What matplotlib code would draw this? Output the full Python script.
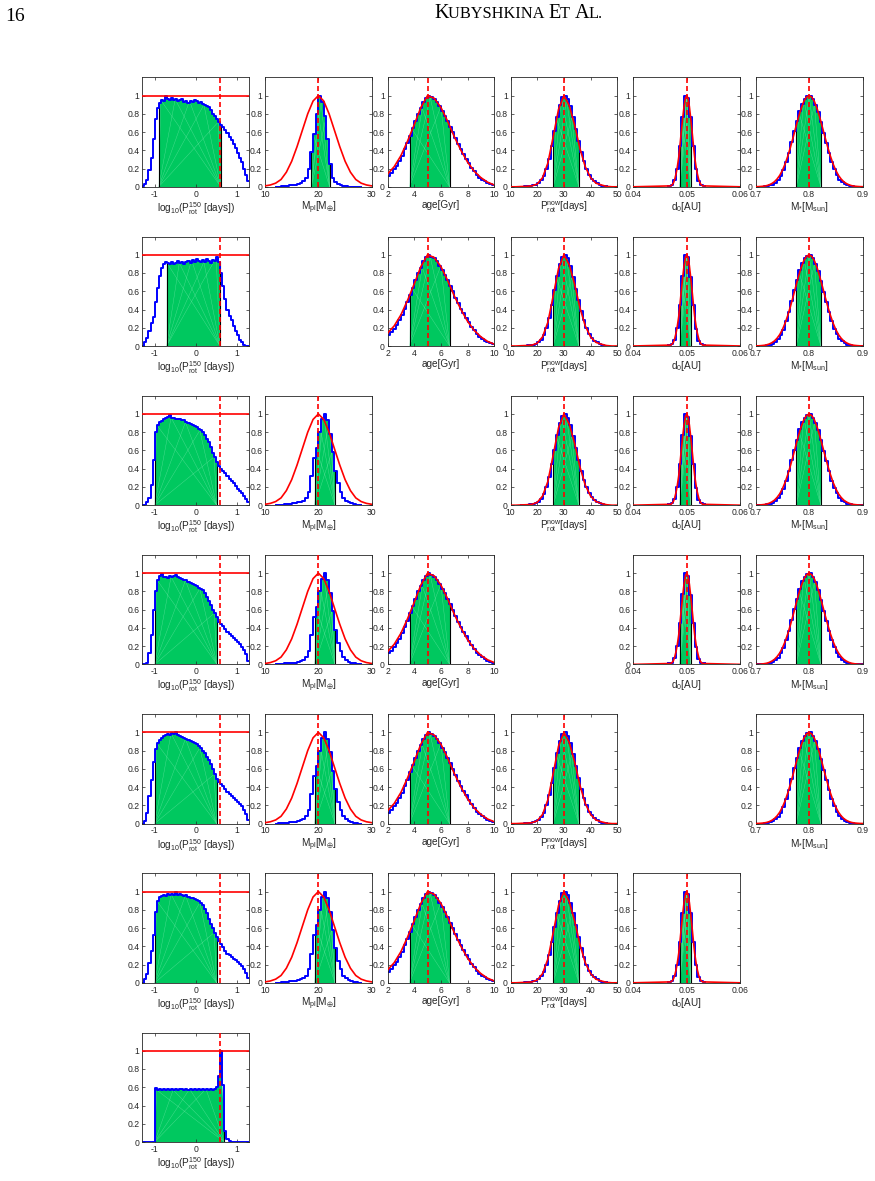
import numpy as np
import matplotlib
matplotlib.use("Agg")
import matplotlib.pyplot as plt
from matplotlib.ticker import FuncFormatter
from matplotlib.offsetbox import TextArea, HPacker, AnchoredOffsetbox

plt.rcParams['font.family'] = ['Liberation Sans', 'DejaVu Sans']
plt.rcParams['mathtext.fontset'] = 'custom'
plt.rcParams['mathtext.rm'] = 'Liberation Sans'
plt.rcParams['mathtext.it'] = 'Liberation Sans:italic'
plt.rcParams['mathtext.bf'] = 'Liberation Sans:bold'
plt.rcParams['mathtext.fallback'] = 'stix'

# --- DATA ---

# log10(P_rot^150 [days]) posterior, bins of 0.05 between -1.3 and 1.3
PROT150_EDGES = np.linspace(-1.3, 1.3, 53)
PROT150_HIST = [
    [0.01, 0.03, 0.08, 0.18, 0.32, 0.52, 0.74, 0.86, 0.92, 0.95, 0.94, 0.99, 0.96,
     0.95, 0.97, 0.95, 0.96, 0.94, 0.95, 0.96, 0.93, 0.94, 0.92, 0.94, 0.93, 0.95,
     0.94, 0.92, 0.93, 0.91, 0.90, 0.88, 0.87, 0.84, 0.80, 0.78, 0.74, 0.71, 0.68,
     0.65, 0.62, 0.59, 0.55, 0.51, 0.47, 0.42, 0.37, 0.32, 0.27, 0.20, 0.13, 0.06],
    [0.0, 0.04, 0.09, 0.16, 0.25, 0.32, 0.48, 0.64, 0.77, 0.86, 0.90, 0.92, 0.91,
     0.90, 0.92, 0.90, 0.91, 0.93, 0.91, 0.92, 0.90, 0.92, 0.93, 0.91, 0.94, 0.92,
     0.95, 0.93, 0.92, 0.94, 0.92, 0.95, 0.93, 0.91, 0.94, 0.93, 0.97, 0.92, 0.80,
     0.66, 0.52, 0.40, 0.33, 0.28, 0.22, 0.16, 0.12, 0.07, 0.04, 0.01, 0.0, 0.0],
    [0.0, 0.0, 0.03, 0.08, 0.22, 0.50, 0.80, 0.88, 0.91, 0.92, 0.94, 0.96, 0.97,
     0.99, 0.96, 0.96, 0.95, 0.94, 0.94, 0.93, 0.93, 0.91, 0.90, 0.89, 0.88, 0.87,
     0.86, 0.84, 0.82, 0.80, 0.77, 0.73, 0.69, 0.64, 0.57, 0.53, 0.47, 0.43, 0.40,
     0.38, 0.35, 0.32, 0.29, 0.26, 0.24, 0.21, 0.18, 0.16, 0.13, 0.10, 0.07, 0.03],
    [0.0, 0.0, 0.02, 0.12, 0.32, 0.60, 0.80, 0.93, 0.97, 0.99, 0.96, 0.96, 0.95,
     0.97, 0.96, 0.97, 0.98, 0.96, 0.95, 0.94, 0.93, 0.92, 0.90, 0.89, 0.88, 0.87,
     0.86, 0.84, 0.83, 0.81, 0.78, 0.74, 0.70, 0.65, 0.60, 0.56, 0.52, 0.47, 0.44,
     0.42, 0.39, 0.36, 0.33, 0.31, 0.29, 0.27, 0.25, 0.22, 0.19, 0.16, 0.11, 0.04],
    [0.0, 0.03, 0.12, 0.30, 0.48, 0.68, 0.82, 0.88, 0.92, 0.94, 0.96, 0.97, 0.98,
     0.97, 0.99, 0.98, 1.0, 0.97, 0.96, 0.95, 0.94, 0.93, 0.92, 0.91, 0.89, 0.88,
     0.87, 0.85, 0.83, 0.80, 0.77, 0.73, 0.70, 0.65, 0.60, 0.54, 0.49, 0.46, 0.43,
     0.41, 0.38, 0.35, 0.32, 0.30, 0.28, 0.26, 0.24, 0.21, 0.19, 0.15, 0.10, 0.04],
    [0.0, 0.04, 0.10, 0.22, 0.35, 0.52, 0.78, 0.90, 0.94, 0.95, 0.96, 0.95, 0.97,
     0.96, 0.97, 0.96, 0.99, 0.96, 0.97, 0.96, 0.95, 0.96, 0.94, 0.93, 0.93, 0.92,
     0.91, 0.90, 0.88, 0.85, 0.81, 0.76, 0.70, 0.64, 0.60, 0.55, 0.50, 0.46, 0.42,
     0.39, 0.35, 0.32, 0.30, 0.28, 0.26, 0.25, 0.23, 0.21, 0.18, 0.15, 0.11, 0.05],
    [0.0, 0.0, 0.0, 0.0, 0.0, 0.0, 0.59, 0.57, 0.58, 0.57, 0.58, 0.57, 0.58,
     0.57, 0.58, 0.57, 0.58, 0.57, 0.58, 0.58, 0.57, 0.58, 0.57, 0.58, 0.57, 0.58,
     0.57, 0.58, 0.57, 0.58, 0.57, 0.58, 0.57, 0.58, 0.57, 0.58, 0.60, 0.72, 1.0,
     0.62, 0.12, 0.03, 0.01, 0.0, 0.0, 0.0, 0.0, 0.0, 0.0, 0.0, 0.0, 0.0],
]
PROT150_CI = [(-0.90, 0.61), (-0.71, 0.59), (-1.0, 0.51), (-1.0, 0.52),
              (-1.0, 0.51), (-1.0, 0.51), (-1.0, 0.70)]
PROT150_PRIOR = 1.0
PROT150_TRUE = 0.6

# planet mass [M_earth], bins of 0.5 between 12 and 28
MPL_EDGES = np.linspace(12, 28, 33)
MPL_HIST_A = [0.0, 0.0, 0.005, 0.01, 0.01, 0.015, 0.02, 0.025, 0.03, 0.04, 0.06,
              0.10, 0.20, 0.38, 0.58, 0.80, 1.0, 0.93, 0.78, 0.52, 0.25, 0.10,
              0.05, 0.03, 0.02, 0.01, 0.005, 0.0, 0.0, 0.0, 0.0, 0.0]
MPL_HIST_B = [0.0, 0.003, 0.005, 0.01, 0.01, 0.015, 0.02, 0.02, 0.03, 0.04, 0.05,
              0.08, 0.15, 0.32, 0.52, 0.63, 0.80, 0.94, 1.0, 0.93, 0.78, 0.58,
              0.38, 0.24, 0.15, 0.08, 0.05, 0.03, 0.02, 0.01, 0.005, 0.0]
MPL_CI_A = (18.7, 22.1)
MPL_CI_B = (19.3, 23.1)
MPL_PRIOR_X = np.linspace(10, 30, 21)
MPL_PRIOR = [0.01, 0.02, 0.04, 0.08, 0.16, 0.28, 0.44, 0.62, 0.80, 0.94, 1.0,
             0.94, 0.80, 0.62, 0.44, 0.28, 0.16, 0.08, 0.04, 0.02, 0.01]
MPL_TRUE = 20

# stellar age [Gyr], bins of 0.2 between 2 and 10
AGE_EDGES = np.linspace(2, 10, 41)
AGE_HIST = [0.12, 0.15, 0.19, 0.23, 0.28, 0.34, 0.41, 0.48, 0.56, 0.64, 0.72,
            0.80, 0.86, 0.93, 0.97, 1.0, 0.98, 0.96, 0.93, 0.88, 0.83, 0.78,
            0.72, 0.66, 0.60, 0.53, 0.47, 0.41, 0.36, 0.31, 0.26, 0.21, 0.17,
            0.13, 0.10, 0.08, 0.06, 0.04, 0.03, 0.02]
AGE_CI = (3.65, 6.65)
AGE_PRIOR_X = np.linspace(2, 10, 17)
AGE_PRIOR = [0.14, 0.22, 0.34, 0.50, 0.68, 0.87, 1.0, 0.97, 0.87, 0.72, 0.55,
             0.40, 0.27, 0.17, 0.10, 0.05, 0.02]
AGE_TRUE = 5

# present-day rotation period [days], bins of 1 between 14 and 46
PNOW_EDGES = np.linspace(14, 46, 33)
PNOW_HIST = [0.0, 0.005, 0.007, 0.01, 0.015, 0.025, 0.04, 0.07, 0.12, 0.20, 0.31,
             0.45, 0.61, 0.77, 0.90, 0.98, 1.0, 0.96, 0.88, 0.76, 0.63, 0.50,
             0.38, 0.28, 0.20, 0.13, 0.09, 0.06, 0.04, 0.02, 0.01, 0.005]
PNOW_CI = (26.0, 35.6)
PNOW_PRIOR_X = np.linspace(10, 50, 21)
PNOW_PRIOR = [0.0, 0.0, 0.003, 0.005, 0.01, 0.03, 0.10, 0.26, 0.55, 0.85, 1.0,
              0.89, 0.68, 0.42, 0.22, 0.10, 0.04, 0.02, 0.005, 0.0, 0.0]
PNOW_TRUE = 30

# orbital distance [AU], bins of 0.0005 between 0.0465 and 0.0535
D0_EDGES = np.linspace(0.0465, 0.0535, 15)
D0_HIST = [0.01, 0.02, 0.07, 0.20, 0.45, 0.77, 1.0, 0.97, 0.76, 0.45, 0.19, 0.06,
           0.02, 0.01]
D0_CI = (0.0487, 0.0508)
D0_PRIOR_X = np.concatenate(([0.04], np.linspace(0.047, 0.053, 25), [0.06]))
D0_PRIOR = [0.0, 0.01, 0.02, 0.04, 0.08, 0.14, 0.22, 0.32, 0.46, 0.61, 0.75, 0.88,
            0.97, 1.0, 0.97, 0.88, 0.75, 0.61, 0.46, 0.32, 0.22, 0.14, 0.08, 0.04,
            0.02, 0.01, 0.0]
D0_TRUE = 0.05

# stellar mass [M_sun], bins of 0.005 between 0.7 and 0.9
MSTAR_EDGES = np.linspace(0.7, 0.9, 41)
MSTAR_HIST = [0.0, 0.0, 0.0, 0.005, 0.008, 0.015, 0.025, 0.045, 0.075, 0.12, 0.18,
              0.27, 0.37, 0.49, 0.61, 0.72, 0.83, 0.91, 0.96, 0.99, 1.0, 0.96,
              0.90, 0.82, 0.71, 0.59, 0.48, 0.37, 0.27, 0.19, 0.13, 0.08, 0.05,
              0.03, 0.015, 0.008, 0.004, 0.0, 0.0, 0.0]
MSTAR_CI = (0.776, 0.822)
MSTAR_PRIOR_X = np.linspace(0.7, 0.9, 41)
MSTAR_PRIOR = [0.001, 0.002, 0.004, 0.007, 0.012, 0.021, 0.035, 0.055, 0.085,
               0.125, 0.18, 0.249, 0.334, 0.432, 0.539, 0.651, 0.76, 0.857, 0.934,
               0.983, 1.0, 0.983, 0.934, 0.857, 0.76, 0.651, 0.539, 0.432, 0.334,
               0.249, 0.18, 0.125, 0.085, 0.055, 0.035, 0.021, 0.012, 0.007,
               0.004, 0.002, 0.001]
MSTAR_TRUE = 0.8

# which parameter columns appear in each row of the grid
ROW_PANELS = [
    [0, 1, 2, 3, 4, 5],
    [0, 2, 3, 4, 5],
    [0, 1, 3, 4, 5],
    [0, 1, 2, 4, 5],
    [0, 1, 2, 3, 5],
    [0, 1, 2, 3, 4],
    [0],
]

COL_XLIM = [(-1.301, 1.301), (10, 30), (2, 10), (10, 50), (0.04, 0.06), (0.7, 0.9)]
COL_XTICKS = [[-1, 0, 1], [10, 20, 30], [2, 4, 6, 8, 10], [10, 20, 30, 40, 50],
              [0.04, 0.05, 0.06], [0.7, 0.8, 0.9]]
COL_LABELS = [r'log$_{10}$(P$^{150}_{\rm rot}$ [days])',
              r'M$_{\rm pl}$[M$_{\oplus}$]',
              r'age[Gyr]',
              r'P$^{\rm now}_{\rm rot}$[days]',
              r'd$_0$[AU]',
              r'M$_{*}$[M$_{\rm sun}$]']

GREEN = '#00c85f'
FAN = '#8ff0bd'
BLUE = '#0000ff'
RED = '#ff0000'
DARK = '#262626'


def step_height(edges, vals, x):
    i = np.clip(np.searchsorted(edges, x, side='right') - 1, 0, len(vals) - 1)
    return vals[i]


def draw_posterior(ax, edges, vals, ci, prior_x, prior_y, true_val, flat_prior=None):
    edges = np.asarray(edges)
    vals = np.asarray(vals, dtype=float)
    lo, hi = ci

    # green credible region following the histogram
    px = [lo, lo]
    py = [0.0, step_height(edges, vals, lo)]
    for e in edges[(edges > lo) & (edges < hi)]:
        i = np.searchsorted(edges, e)
        px += [e, e]
        py += [vals[i - 1], vals[i]]
    px += [hi, hi]
    py += [step_height(edges, vals, hi), 0.0]
    ax.fill(px, py, color=GREEN, lw=0, zorder=1)

    # faint fill artefacts fanning out from the bottom corners
    n = len(px)
    for k in range(3, n - 3, max(1, (n - 6) // 4)):
        ax.plot([lo, px[k]], [0, py[k]], color=FAN, lw=0.3, alpha=0.55, zorder=1.1)
        ax.plot([hi, px[k]], [0, py[k]], color=FAN, lw=0.3, alpha=0.55, zorder=1.1)

    ax.plot([lo, lo], [0, py[1]], color='k', lw=0.8, zorder=1.5)
    ax.plot([hi, hi], [0, py[-2]], color='k', lw=0.8, zorder=1.5)

    # posterior histogram
    sx = np.repeat(edges, 2)[1:-1]
    sy = np.repeat(vals, 2)
    ax.plot(sx, sy, color=BLUE, lw=1.4, zorder=2)

    # prior and true value
    if flat_prior is not None:
        ax.axhline(flat_prior, color=RED, lw=1.2, zorder=3)
    else:
        ax.plot(prior_x, prior_y, color=RED, lw=1.2, zorder=3)
    ax.axvline(true_val, color=RED, lw=1.2, dashes=(3, 1.8), zorder=4)


def panel_data(row, col):
    if col == 0:
        return (PROT150_EDGES, PROT150_HIST[row], PROT150_CI[row], None, None,
                PROT150_TRUE, PROT150_PRIOR)
    if col == 1:
        hist, ci = (MPL_HIST_A, MPL_CI_A) if row == 0 else (MPL_HIST_B, MPL_CI_B)
        return MPL_EDGES, hist, ci, MPL_PRIOR_X, MPL_PRIOR, MPL_TRUE, None
    if col == 2:
        return AGE_EDGES, AGE_HIST, AGE_CI, AGE_PRIOR_X, AGE_PRIOR, AGE_TRUE, None
    if col == 3:
        return PNOW_EDGES, PNOW_HIST, PNOW_CI, PNOW_PRIOR_X, PNOW_PRIOR, PNOW_TRUE, None
    if col == 4:
        return D0_EDGES, D0_HIST, D0_CI, D0_PRIOR_X, D0_PRIOR, D0_TRUE, None
    return MSTAR_EDGES, MSTAR_HIST, MSTAR_CI, MSTAR_PRIOR_X, MSTAR_PRIOR, MSTAR_TRUE, None


W, H = 875, 1181
fig = plt.figure(figsize=(W / 100, H / 100), dpi=100)

col_left = [142.3, 265.0, 387.5, 510.5, 633.3, 755.7]
ax_w, ax_h = 106.8, 109.5
fmt = FuncFormatter(lambda v, p: '%g' % round(v, 4))

for r, cols in enumerate(ROW_PANELS):
    top = 77.3 + 159.2 * r
    for c in cols:
        ax = fig.add_axes([col_left[c] / W, 1 - (top + ax_h) / H, ax_w / W, ax_h / H])
        edges, hist, ci, prx, pry, tv, flat = panel_data(r, c)
        draw_posterior(ax, edges, hist, ci, prx, pry, tv, flat_prior=flat)
        ax.set_xlim(*COL_XLIM[c])
        ax.set_ylim(0, 1.2)
        ax.set_xticks(COL_XTICKS[c])
        ax.set_yticks([0, 0.2, 0.4, 0.6, 0.8, 1])
        ax.xaxis.set_major_formatter(fmt)
        ax.yaxis.set_major_formatter(fmt)
        ax.tick_params(direction='in', length=2.2, width=0.5, top=True, right=True,
                       labelsize=6.2, pad=2, colors=DARK)
        for s in ax.spines.values():
            s.set_linewidth(0.6)
            s.set_color(DARK)
        ax.set_xlabel(COL_LABELS[c], fontsize=7.2, labelpad=1, color=DARK)

# running header in journal style
fig.text(5 / W, 1 - 21.4 / H, '16', family='Liberation Serif', fontsize=14,
         va='baseline', ha='left')
pieces = [('K', 14.5), ('UBYSHKINA ', 11.8), ('E', 14.5), ('T ', 11.8),
          ('A', 14.5), ('L.', 11.8)]
areas = [TextArea(t, textprops=dict(family='Liberation Serif', fontsize=s))
         for t, s in pieces]
box = HPacker(children=areas, align='baseline', pad=0, sep=0)
anchored = AnchoredOffsetbox(loc='upper left', child=box, pad=0, borderpad=0,
                             frameon=False, bbox_to_anchor=(434 / W, 1 - 4 / H),
                             bbox_transform=fig.transFigure)
fig.add_artist(anchored)

fig.savefig('out.png', dpi=100)
